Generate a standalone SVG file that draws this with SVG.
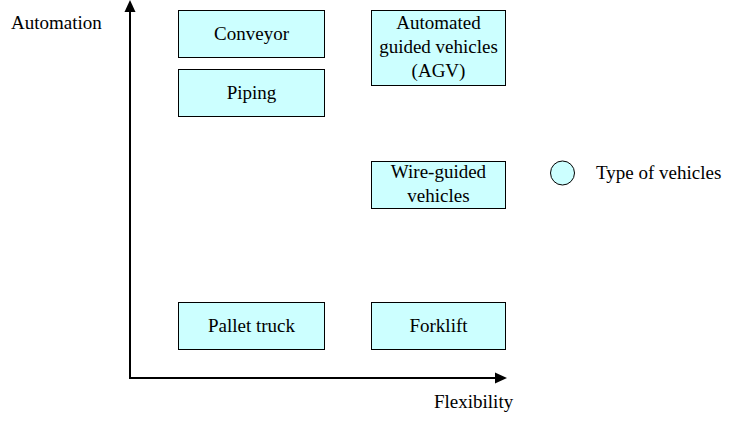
<svg xmlns="http://www.w3.org/2000/svg" width="733" height="423" viewBox="0 0 733 423">
<style>
text{font-family:'Liberation Serif','DejaVu Serif','Times New Roman',Times,serif;font-size:19px;fill:#000}
.c{text-anchor:middle}
.box{fill:#CCFFFF;stroke:#000;stroke-width:1}
.axis{stroke:#000;stroke-width:2;fill:none}
</style>
<rect width="733" height="423" fill="#fff"/>
<g id="connectors">
<line class="axis" x1="130" y1="378" x2="130" y2="12" />
<path d="M130,0 L124.5,12 L135.5,12 z" fill="#000"/>
<line class="axis" x1="129" y1="378" x2="496" y2="378" />
<path d="M507,378 L495,372.5 L495,383.5 z" fill="#000"/>
</g>
<g id="label-automation"><text x="11" y="29">Automation</text></g>
<g id="label-flexibility"><text x="434" y="408">Flexibility</text></g>
<g id="conveyor"><rect class="box" x="178.5" y="10.5" width="146" height="47"/><text class="c" x="251.5" y="40">Conveyor</text></g>
<g id="piping"><rect class="box" x="178.5" y="69.5" width="146" height="47"/><text class="c" x="251.5" y="99">Piping</text></g>
<g id="agv"><rect class="box" x="371.5" y="10.5" width="134" height="75"/><text class="c" x="438.5" y="29">Automated</text><text class="c" x="438.5" y="53">guided vehicles</text><text class="c" x="438.5" y="77">(AGV)</text></g>
<g id="wire-guided"><rect class="box" x="371.5" y="161.5" width="134" height="47"/><text class="c" x="438.5" y="178">Wire-guided</text><text class="c" x="438.5" y="202">vehicles</text></g>
<g id="pallet-truck"><rect class="box" x="178.5" y="302.5" width="146" height="47"/><text class="c" x="251.5" y="332">Pallet truck</text></g>
<g id="forklift"><rect class="box" x="371.5" y="302.5" width="134" height="47"/><text class="c" x="438.5" y="332">Forklift</text></g>
<g id="legend"><circle cx="562.5" cy="173" r="12" fill="#CCFFFF" stroke="#000" stroke-width="1"/><text x="596" y="179">Type of vehicles</text></g>
</svg>
